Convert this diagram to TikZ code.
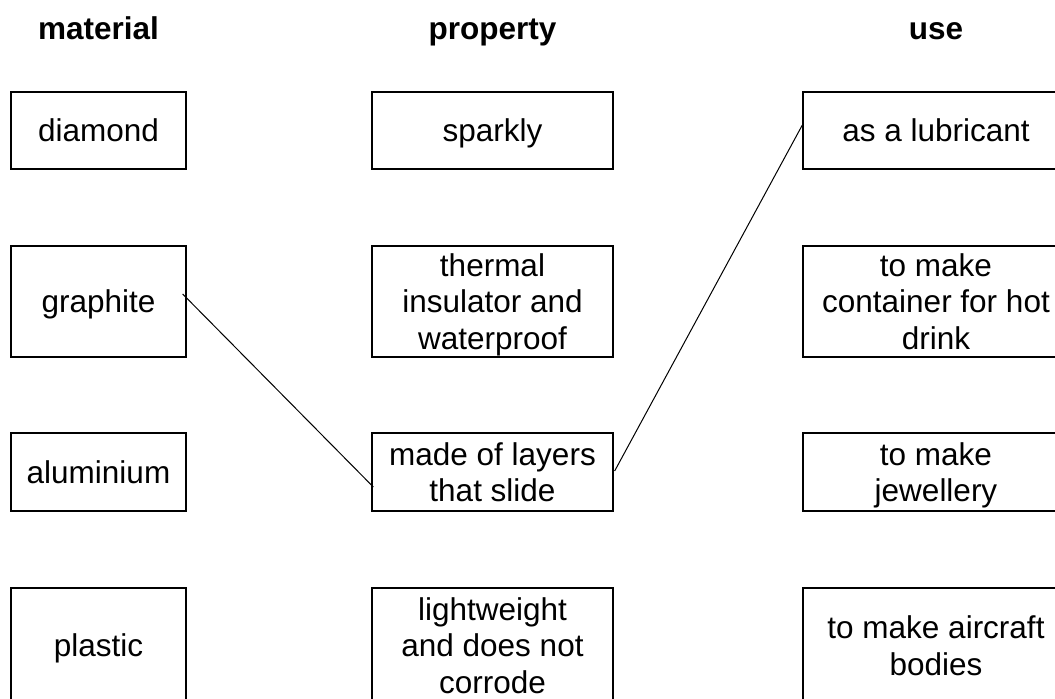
\documentclass[tikz,border=0pt]{standalone}
\usepackage{fontspec}
\setmainfont{Liberation Sans}
\newcommand\st{\rule[-3.4pt]{0pt}{18.2pt}}
\begin{document}
\begin{tikzpicture}[x=0.5pt,y=-0.5pt,
  every node/.style={font=\fontsize{15.75}{18.2}\selectfont, inner sep=0pt, align=center},
  head/.style={font=\fontsize{15.75}{18.2}\selectfont\bfseries, anchor=base},
  box/.style={draw, line width=0.65pt, minimum height=#1*0.5pt},
  lbox/.style={box=#1, minimum width=87.5pt},
  mbox/.style={box=#1, minimum width=120.5pt},
  rbox/.style={box=#1, minimum width=133pt},
  link/.style={line width=0.5pt}]
\useasboundingbox (0,0) rectangle (1055,699);
\clip (0,0) rectangle (1055,699);
% headings
\node[head] (h1) at (98.5,39.5) {material};
\node[head] (h2) at (492.5,39.5) {property};
\node[head] (h3) at (936,39.5) {use};
% materials
\node[lbox=77] (m1) at (98.5,130.5) {\st diamond};
\node[lbox=111] (m2) at (98.5,301.5) {\st graphite};
\node[lbox=78] (m3) at (98.5,472) {\st aluminium};
\node[lbox=115] (m4) at (98.5,645.5) {\st plastic};
% properties
\node[mbox=77] (p1) at (492.5,130.5) {\st sparkly};
\node[mbox=111] (p2) at (492.5,301.5) {\st thermal\\\st insulator and\\\st waterproof};
\node[mbox=78] (p3) at (492.5,472) {\st made of layers\\\st that slide};
\node[mbox=115] (p4) at (492.5,645.5) {\st lightweight\\\st and does not\\\st corrode};
% uses
\node[rbox=77] (u1) at (936,130.5) {\st as a lubricant};
\node[rbox=111] (u2) at (936,301.5) {\st to make\\\st container for hot\\\st drink};
\node[rbox=78] (u3) at (936,472) {\st to make\\\st jewellery};
\node[rbox=115] (u4) at (936,645.5) {\st to make aircraft\\\st bodies};
% connectors
\coordinate (a1) at ([shift={(-4,-7.5)}]m2.east);
\coordinate (a2) at ([shift={(2,15)}]p3.west);
\coordinate (b1) at ([shift={(1,-1)}]p3.east);
\coordinate (b2) at ([shift={(0,-5.5)}]u1.west);
\draw[link] (a1) -- (a2);
\draw[link] (b1) -- (b2);
\end{tikzpicture}
\end{document}
